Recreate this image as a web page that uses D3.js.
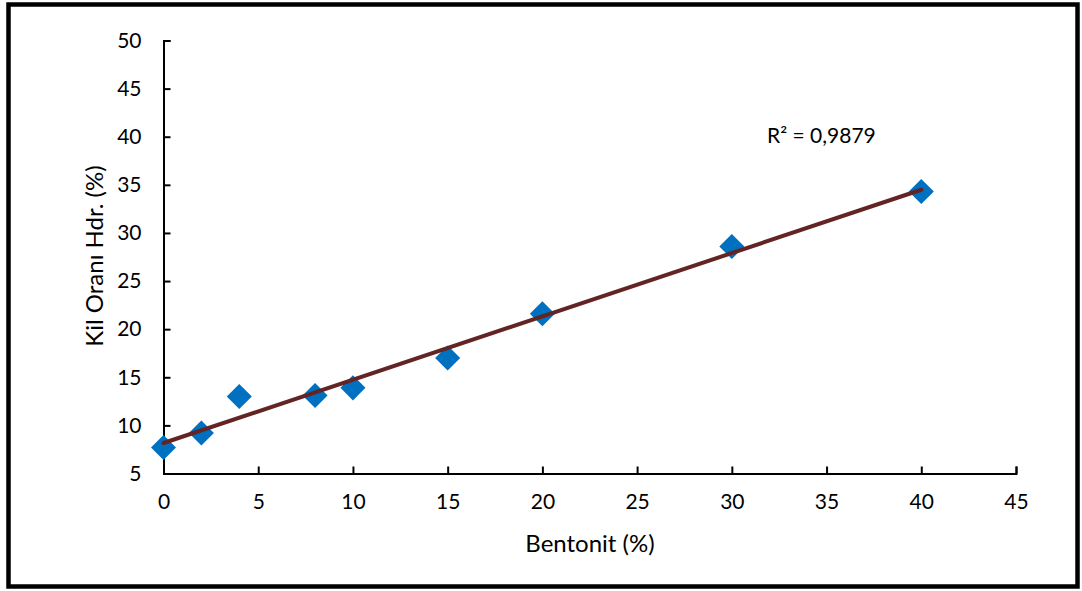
<!DOCTYPE html>
<html><head><meta charset="utf-8">
<script src="https://cdn.jsdelivr.net/npm/d3@7"></script>
<style>body{margin:0;background:#fff}svg text{font-family:Lato,"Open Sans",sans-serif;fill:#000}</style>
</head><body><svg id="c" width="1082" height="591"></svg>
<script>
const bentonit = [0, 2, 4, 8, 10, 15, 20, 30, 40];
const kilOrani = [7.7, 9.2, 13.0, 13.1, 13.9, 17.0, 21.6, 28.6, 34.3];
const xTicks = [0, 5, 10, 15, 20, 25, 30, 35, 40, 45];
const yTicks = [5, 10, 15, 20, 25, 30, 35, 40, 45, 50];
const r2Label = "R² = 0,9879";

const svg = d3.select("#c");
svg.append("rect").attr("x", 8.5).attr("y", 4.5).attr("width", 1069).attr("height", 582)
  .attr("fill", "#fff").attr("stroke", "#000").attr("stroke-width", 4.5);

const x = d3.scaleLinear().domain([0, 45]).range([163.5, 1016]);
const y = d3.scaleLinear().domain([5, 50]).range([473.5, 40.5]);

const xa = svg.append("g").attr("transform", `translate(0,${y(5)})`)
  .call(d3.axisBottom(x).tickValues(xTicks).tickSizeInner(-7).tickSizeOuter(-7).tickPadding(21));
const ya = svg.append("g").attr("transform", `translate(${x(0)},0)`)
  .call(d3.axisLeft(y).tickValues(yTicks).tickSizeInner(-7).tickSizeOuter(-7).tickPadding(22));
[xa, ya].forEach(a => {
  a.selectAll("path, line").attr("stroke", "#000").attr("stroke-width", 2);
  a.selectAll("text").attr("font-size", 21).attr("font-family", "Lato, 'Open Sans', sans-serif").attr("fill", "#000");
});

// linear trendline (least squares)
const n = bentonit.length;
const mx = d3.mean(bentonit), my = d3.mean(kilOrani);
let sxy = 0, sxx = 0;
for (let i = 0; i < n; i++) { sxy += (bentonit[i]-mx)*(kilOrani[i]-my); sxx += (bentonit[i]-mx)**2; }
const slope = sxy / sxx, icpt = my - slope * mx;

const sym = d3.symbol().type(d3.symbolDiamond2).size(400);
svg.append("g").selectAll("path").data(bentonit).join("path")
  .attr("transform", (d, i) => `translate(${x(d)},${y(kilOrani[i])})`)
  .attr("d", sym).attr("fill", "#0070C0");

const x0 = d3.min(bentonit), x1 = d3.max(bentonit);
svg.append("line").attr("x1", x(x0)).attr("y1", y(icpt + slope*x0))
  .attr("x2", x(x1)).attr("y2", y(icpt + slope*x1))
  .attr("stroke", "#632523").attr("stroke-width", 4).attr("stroke-linecap", "round");

svg.append("text").attr("x", 767).attr("y", 143).attr("font-size", 21).text(r2Label);
svg.append("text").attr("x", 590).attr("y", 552).attr("text-anchor", "middle").attr("font-size", 24).text("Bentonit (%)");
svg.append("text").attr("transform", "translate(103,256) rotate(-90)").attr("text-anchor", "middle").attr("font-size", 24).text("Kil Oranı Hdr. (%)");
</script></body></html>
